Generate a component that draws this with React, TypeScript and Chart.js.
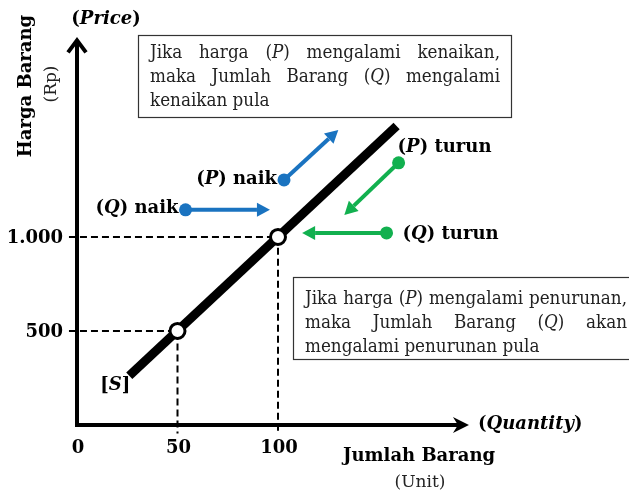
import React, { useEffect, useRef } from "react";
import { Chart, registerables } from "chart.js";
Chart.register(...registerables);

// ---- data ----
const supplyQ = [26, 159];
const supplyP = [262, 1590];
const eqQ = [50, 100];
const eqP = [500, 1000];
const xTicks = [0, 50, 100];
const xTickLabels = ["0", "50", "100"];
const yTicks = [500, 1000];
const yTickLabels = ["500", "1.000"];
const axisEndQ = 195;
const axisEndP = 2050;
// arrows: [fromQ, fromP, toQ, toP]
const qNaikArrow = [54, 1144, 96, 1144];
const pNaikArrow = [103, 1303, 130, 1569];
const pTurunArrow = [160, 1394, 133, 1117];
const qTurunArrow = [154, 1021, 112, 1021];

const BLUE = "#1a73c0";
const GREEN = "#12b04f";
const SERIF = "'DejaVu Serif', serif";
const BOXSERIF = "'DejaVu Serif Condensed', 'DejaVu Serif', serif";

type Run = { t: string; b?: boolean; i?: boolean };

let curFamily = SERIF;
function font(r: Run, size: number) {
  return `${r.i ? "italic " : ""}${r.b ? "bold " : ""}${size}px ${curFamily}`;
}
function runsWidth(ctx: CanvasRenderingContext2D, runs: Run[], size: number) {
  let w = 0;
  for (const r of runs) {
    ctx.font = font(r, size);
    w += ctx.measureText(r.t).width;
  }
  return w;
}
function drawRuns(ctx: CanvasRenderingContext2D, runs: Run[], x: number, y: number, size: number, align: "left" | "center" | "right" = "left", color = "#000") {
  const w = runsWidth(ctx, runs, size);
  let cx = align === "left" ? x : align === "center" ? x - w / 2 : x - w;
  ctx.fillStyle = color;
  ctx.textBaseline = "middle";
  ctx.textAlign = "left";
  for (const r of runs) {
    ctx.font = font(r, size);
    ctx.fillText(r.t, cx, y);
    cx += ctx.measureText(r.t).width;
  }
}
function naturalWidth(ctx: CanvasRenderingContext2D, words: Run[][], size: number) {
  ctx.font = `${size}px ${curFamily}`;
  const space = ctx.measureText(" ").width;
  return words.reduce((a, w) => a + runsWidth(ctx, w, size), 0) + space * (words.length - 1);
}
function drawJustified(ctx: CanvasRenderingContext2D, words: Run[][], x0: number, x1: number, y: number, size: number, justify: boolean) {
  const widths = words.map((w) => runsWidth(ctx, w, size));
  const sum = widths.reduce((a, b) => a + b, 0);
  ctx.font = `${size}px ${curFamily}`;
  const space = ctx.measureText(" ").width;
  const gap = justify && words.length > 1 ? (x1 - x0 - sum) / (words.length - 1) : space;
  let x = x0;
  words.forEach((w, k) => {
    drawRuns(ctx, w, x, y, size, "left", "#222");
    x += widths[k] + gap;
  });
}
const W = (s: string): Run[] => [{ t: s }];
const PAREN = (letter: string, tail = ""): Run[] => [{ t: "(" }, { t: letter, i: true }, { t: ")" + tail }];

const box1: Run[][][] = [
  [W("Jika"), W("harga"), PAREN("P"), W("mengalami"), W("kenaikan,")],
  [W("maka"), W("Jumlah"), W("Barang"), PAREN("Q"), W("mengalami")],
  [W("kenaikan"), W("pula")],
];
const box2: Run[][][] = [
  [W("Jika"), W("harga"), PAREN("P"), W("mengalami"), W("penurunan,")],
  [W("maka"), W("Jumlah"), W("Barang"), PAREN("Q"), W("akan")],
  [W("mengalami"), W("penurunan"), W("pula")],
];

function arrow(ctx: CanvasRenderingContext2D, x1: number, y1: number, x2: number, y2: number, color: string) {
  const a = Math.atan2(y2 - y1, x2 - x1);
  const hl = 13, hw = 7;
  ctx.strokeStyle = color;
  ctx.fillStyle = color;
  ctx.lineWidth = 4;
  ctx.beginPath();
  ctx.moveTo(x1, y1);
  ctx.lineTo(x2 - hl * Math.cos(a), y2 - hl * Math.sin(a));
  ctx.stroke();
  ctx.beginPath();
  ctx.moveTo(x2, y2);
  ctx.lineTo(x2 - hl * Math.cos(a) + hw * Math.sin(a), y2 - hl * Math.sin(a) - hw * Math.cos(a));
  ctx.lineTo(x2 - hl * Math.cos(a) - hw * Math.sin(a), y2 - hl * Math.sin(a) + hw * Math.cos(a));
  ctx.closePath();
  ctx.fill();
  ctx.beginPath();
  ctx.arc(x1, y1, 6.5, 0, Math.PI * 2);
  ctx.fill();
}

const decorPlugin = {
  id: "decor",
  beforeDatasetsDraw(chart: any) {
    const ctx: CanvasRenderingContext2D = chart.ctx;
    const xs = chart.scales.x, ys = chart.scales.y;
    const ox = xs.getPixelForValue(0), oy = ys.getPixelForValue(0);
    const ex = xs.getPixelForValue(axisEndQ), ey = ys.getPixelForValue(axisEndP);
    ctx.save();
    ctx.strokeStyle = "#000";
    ctx.fillStyle = "#000";
    ctx.lineWidth = 4;
    ctx.lineCap = "butt";
    ctx.beginPath();
    ctx.moveTo(ox, oy + 2);
    ctx.lineTo(ox, ey + 2);
    ctx.stroke();
    ctx.lineJoin = "miter";
    ctx.beginPath();
    ctx.moveTo(ox - 9, ey + 13);
    ctx.lineTo(ox, ey + 1);
    ctx.lineTo(ox + 9, ey + 13);
    ctx.stroke();
    ctx.beginPath();
    ctx.moveTo(ox - 2, oy);
    ctx.lineTo(ex - 10, oy);
    ctx.stroke();
    ctx.beginPath();
    ctx.moveTo(ex, oy);
    ctx.lineTo(ex - 16, oy - 8);
    ctx.lineTo(ex - 11, oy);
    ctx.lineTo(ex - 16, oy + 8);
    ctx.closePath();
    ctx.fill();
    ctx.restore();
  },
  afterDatasetsDraw(chart: any) {
    const ctx: CanvasRenderingContext2D = chart.ctx;
    const xs = chart.scales.x, ys = chart.scales.y;
    const px = (v: number) => xs.getPixelForValue(v);
    const py = (v: number) => ys.getPixelForValue(v);
    ctx.save();
    curFamily = SERIF;
    yTicks.forEach((v, k) => {
      drawRuns(ctx, [{ t: yTickLabels[k], b: true }], px(0) - 14, py(v) + 1, 18, "right");
    });
    xTicks.forEach((v, k) => {
      drawRuns(ctx, [{ t: xTickLabels[k], b: true }], px(v) + 1, py(0) + 23, 18, "center");
    });
    const ar = (a: number[], c: string) => arrow(ctx, px(a[0]), py(a[1]), px(a[2]), py(a[3]), c);
    ar(qNaikArrow, BLUE);
    ar(pNaikArrow, BLUE);
    ar(pTurunArrow, GREEN);
    ar(qTurunArrow, GREEN);
    const L = 18;
    drawRuns(ctx, [{ t: "(", b: true }, { t: "Q", b: true, i: true }, { t: ") naik", b: true }], px(qNaikArrow[0]) - 7, py(qNaikArrow[1]) - 1, L, "right");
    drawRuns(ctx, [{ t: "(", b: true }, { t: "P", b: true, i: true }, { t: ") naik", b: true }], px(pNaikArrow[0]) - 7, py(pNaikArrow[1]) - 1, L, "right");
    drawRuns(ctx, [{ t: "(", b: true }, { t: "P", b: true, i: true }, { t: ") turun", b: true }], px(pTurunArrow[0]) - 1, py(pTurunArrow[1]) - 15, L, "left");
    drawRuns(ctx, [{ t: "(", b: true }, { t: "Q", b: true, i: true }, { t: ") turun", b: true }], px(qTurunArrow[0]) + 16, py(qTurunArrow[1]) + 1, L, "left");
    drawRuns(ctx, [{ t: "[", b: true }, { t: "S", b: true, i: true }, { t: "]", b: true }], px(supplyQ[0]) - 14, py(supplyP[0]) + 10, L, "center");
    drawRuns(ctx, [{ t: "(", b: true }, { t: "Price", b: true, i: true }, { t: ")", b: true }], 106, 19, 18, "center");
    drawRuns(ctx, [{ t: "(", b: true }, { t: "Quantity", b: true, i: true }, { t: ")", b: true }], 478, 424, 18, "left");
    drawRuns(ctx, [{ t: "Jumlah Barang", b: true }], 419, 456, 18, "center");
    drawRuns(ctx, [{ t: "(Unit)" }], 420, 483, 17, "center", "#222");
    ctx.save();
    ctx.translate(26, 86);
    ctx.rotate(-Math.PI / 2);
    drawRuns(ctx, [{ t: "Harga Barang", b: true }], 0, 0, 18, "center");
    ctx.restore();
    ctx.save();
    ctx.translate(52, 84);
    ctx.rotate(-Math.PI / 2);
    drawRuns(ctx, [{ t: "(Rp)" }], 0, 0, 17, "center", "#222");
    ctx.restore();
    // boxes
    curFamily = BOXSERIF;
    let bs = 17;
    const nat = naturalWidth(ctx, box2[0], bs);
    bs = Math.min(19, (bs * 320) / nat);
    ctx.fillStyle = "#fff";
    ctx.strokeStyle = "#333";
    ctx.lineWidth = 1.2;
    ctx.fillRect(138.5, 35.5, 373, 82);
    ctx.strokeRect(138.5, 35.5, 373, 82);
    box1.forEach((line, k) => drawJustified(ctx, line, 150, 500, 53 + k * 24, bs, k < box1.length - 1));
    ctx.fillStyle = "#fff";
    ctx.fillRect(293.5, 277.5, 345, 82);
    ctx.strokeRect(293.5, 277.5, 345, 82);
    box2.forEach((line, k) => drawJustified(ctx, line, 305, 627, 299 + k * 24, bs, k < box2.length - 1));
    curFamily = SERIF;
    ctx.restore();
  },
};

export default function App() {
  const ref = useRef<HTMLCanvasElement>(null);
  useEffect(() => {
    document.body.style.margin = "0";
    const pts = (qs: number[], ps: number[]) => qs.map((q, k) => ({ x: q, y: ps[k] }));
    const guide = (k: number) => ({
      data: [{ x: -4, y: eqP[k] }, { x: eqQ[k], y: eqP[k] }, { x: eqQ[k], y: -45 }],
      showLine: true,
      borderColor: "#000",
      borderWidth: 2,
      borderDash: [7, 4],
      pointRadius: 0,
      clip: false,
    });
    const chart = new Chart(ref.current!, {
      type: "scatter",
      data: {
        datasets: [
          {
            data: pts(eqQ, eqP),
            pointRadius: 7.5,
            pointBorderWidth: 3,
            pointBackgroundColor: "#fff",
            pointBorderColor: "#000",
            showLine: false,
            clip: false,
          } as any,
          {
            data: pts(supplyQ, supplyP),
            showLine: true,
            borderColor: "#000",
            borderWidth: 9,
            pointRadius: 0,
            clip: false,
          } as any,
          guide(0) as any,
          guide(1) as any,
        ],
      },
      options: {
        responsive: false,
        animation: false,
        events: [],
        layout: { padding: { left: 77, right: 150, top: 30, bottom: 70 } },
        scales: {
          x: { type: "linear", min: 0, max: 200, display: false },
          y: { type: "linear", min: 0, max: 2100, display: false },
        },
        plugins: { legend: { display: false }, tooltip: { enabled: false } },
      },
      plugins: [decorPlugin],
    });
    return () => chart.destroy();
  }, []);
  return (
    <div style={{ position: "fixed", left: 0, top: 0, width: 629, height: 495, background: "#fff" }}>
      <canvas ref={ref} width={629} height={495} />
    </div>
  );
}
